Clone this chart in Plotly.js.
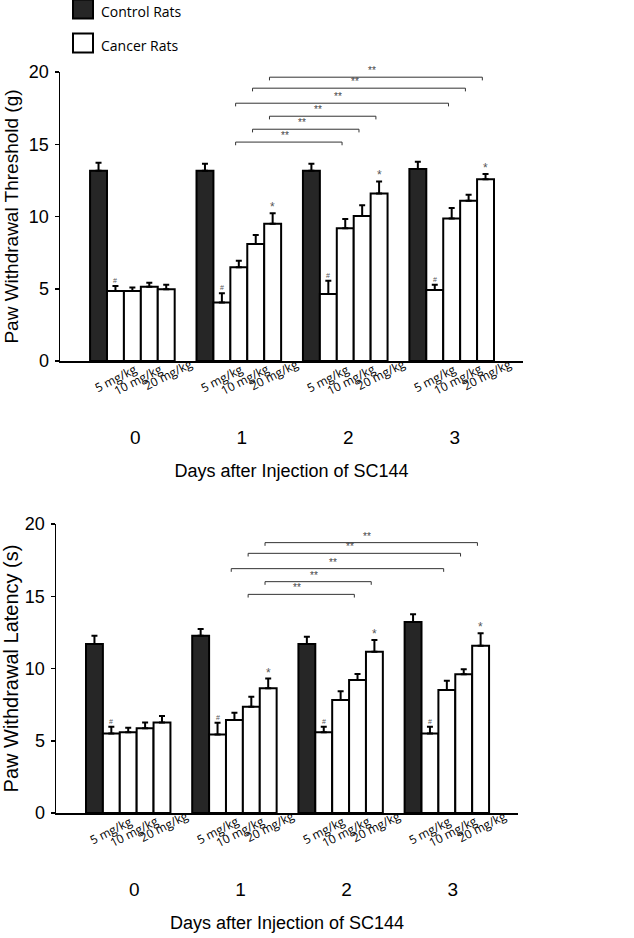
<!DOCTYPE html>
<html>
<head>
<meta charset="utf-8">
<script src="https://cdn.plot.ly/plotly-3.0.1.min.js"></script>
<style>html,body{margin:0;padding:0;background:#fff;}#chart{width:634px;height:938px;}</style>
</head>
<body>
<div id="chart"></div>
<script>
// ---------- data ----------
const days = ["0", "1", "2", "3"];
const groupNames = ["Control Rats", "Cancer Rats"];
const doseLabels = ["5 mg/kg", "10 mg/kg", "20 mg/kg"];
const traceNames = ["Control Rats", "Cancer Rats", "Cancer Rats + 5 mg/kg", "Cancer Rats + 10 mg/kg", "Cancer Rats + 20 mg/kg"];

// Paw withdrawal threshold (g)
const thrControl = [13.17, 13.17, 13.17, 13.29];
const thrControlErr = [0.55, 0.48, 0.48, 0.50];
const thrVehicle = [4.84, 4.04, 4.64, 4.91];
const thrVehicleErr = [0.35, 0.64, 0.92, 0.37];
const thrDose5 = [4.84, 6.48, 9.18, 9.87];
const thrDose5Err = [0.25, 0.46, 0.65, 0.72];
const thrDose10 = [5.14, 8.10, 10.03, 11.09];
const thrDose10Err = [0.28, 0.62, 0.74, 0.42];
const thrDose20 = [4.96, 9.50, 11.60, 12.57];
const thrDose20Err = [0.32, 0.72, 0.83, 0.37];

// Paw withdrawal latency (s)
const latControl = [11.70, 12.27, 11.70, 13.22];
const latControlErr = [0.57, 0.46, 0.50, 0.53];
const latVehicle = [5.51, 5.44, 5.58, 5.51];
const latVehicleErr = [0.46, 0.81, 0.39, 0.46];
const latDose5 = [5.58, 6.44, 7.82, 8.51];
const latDose5Err = [0.32, 0.50, 0.60, 0.65];
const latDose10 = [5.86, 7.36, 9.20, 9.60];
const latDose10Err = [0.41, 0.69, 0.42, 0.34];
const latDose20 = [6.27, 8.63, 11.16, 11.58];
const latDose20Err = [0.44, 0.67, 0.81, 0.86];

// significance brackets: [fromDay, toDay, series index (2=5,3=10,4=20 mg/kg), level]
const thrBrackets = [[1, 3, 4, 19.64], [1, 3, 3, 18.88], [1, 3, 2, 17.84], [1, 2, 4, 16.94], [1, 2, 3, 16.04], [1, 2, 2, 15.15]];
const latBrackets = [[1, 3, 4, 18.71], [1, 3, 3, 17.97], [1, 3, 2, 16.91], [1, 2, 4, 16.01], [1, 2, 3, 15.13]];
// "*" marks above 20 mg/kg bars on these days; "#" above untreated cancer bars on every day
const starDays = [1, 2, 3];
const hashDays = [0, 1, 2, 3];

const yTicks = [0, 5, 10, 15, 20];

// ---------- drawing ----------
const W = 634, H = 938;
const BARGAP = 0.205;
const SLOT = (1 - BARGAP) / 5;
const slotX = (g, k) => g + (k - 2) * SLOT;
const FONT = "Liberation Sans, Arial, sans-serif";
const HFONT = "Open Sans, Noto Sans, sans-serif";
const DARK = "#262626";

function makeTraces(vals, errs, xa, ya) {
  return vals.map((v, k) => ({
    type: "bar", x: days, y: v, name: traceNames[k], xaxis: xa, yaxis: ya,
    showlegend: false, hoverinfo: "y",
    marker: { color: k === 0 ? DARK : "#ffffff", line: { color: "#000", width: 2 } },
    error_y: { type: "data", symmetric: false, array: errs[k], arrayminus: errs[k].map(() => 0),
               color: "#000", thickness: 2, width: 3 }
  }));
}

const thrVals = [thrControl, thrVehicle, thrDose5, thrDose10, thrDose20];
const thrErrs = [thrControlErr, thrVehicleErr, thrDose5Err, thrDose10Err, thrDose20Err];
const latVals = [latControl, latVehicle, latDose5, latDose10, latDose20];
const latErrs = [latControlErr, latVehicleErr, latDose5Err, latDose10Err, latDose20Err];

const traces = makeTraces(thrVals, thrErrs, "x", "y").concat(makeTraces(latVals, latErrs, "x2", "y2"));

const shapes = [];
const annotations = [];

function addDecor(vals, errs, brackets, xr, yr) {
  brackets.forEach(([d1, d2, k, lvl]) => {
    const xa = slotX(d1, k) - 0.03, xb = slotX(d2, k) - 0.03;
    const line = { color: "#333", width: 1 };
    shapes.push({ type: "line", xref: xr, yref: yr, x0: xa, x1: xb, y0: lvl, y1: lvl, line });
    shapes.push({ type: "line", xref: xr, yref: yr, x0: xa, x1: xa, y0: lvl, y1: lvl - 0.22, line });
    shapes.push({ type: "line", xref: xr, yref: yr, x0: xb, x1: xb, y0: lvl, y1: lvl - 0.22, line });
    annotations.push({ xref: xr, yref: yr, x: (xa + xb) / 2 - 0.04, y: lvl, yanchor: "bottom", yshift: -1,
      text: "**", showarrow: false, font: { family: FONT, size: 10, color: "#444" } });
  });
  hashDays.forEach(g => {
    annotations.push({ xref: xr, yref: yr, x: slotX(g, 1), y: vals[1][g] + errs[1][g], yanchor: "bottom", yshift: 0,
      text: "#", showarrow: false, font: { family: FONT, size: 7, color: "#555" } });
  });
  starDays.forEach(g => {
    annotations.push({ xref: xr, yref: yr, x: slotX(g, 4), y: vals[4][g] + errs[4][g], yanchor: "bottom", yshift: -3,
      text: "*", showarrow: false, font: { family: FONT, size: 12, color: "#555" } });
  });
  const doseDx = [-0.163, 0.055, 0.335];
  const doseDy = [17, 18.5, 13.5];
  days.forEach((d, g) => {
    doseLabels.forEach((lab, i) => {
      annotations.push({ xref: xr, yref: yr, x: g + doseDx[i], y: 0, yshift: -doseDy[i],
        xanchor: "center", yanchor: "middle", textangle: -27, text: lab, showarrow: false,
        font: { family: HFONT, size: 12, color: "#000" } });
    });
  });
}
addDecor(thrVals, thrErrs, thrBrackets, "x", "y");
addDecor(latVals, latErrs, latBrackets, "x2", "y2");

// legend (drawn manually to match the large square swatches)
const legY = [9, 43];
groupNames.forEach((n, i) => {
  shapes.push({ type: "rect", xref: "paper", yref: "paper",
    x0: 73 / W, x1: 93 / W, y0: 1 - (legY[i] - 9.5) / H, y1: 1 - (legY[i] + 9.5) / H,
    fillcolor: i === 0 ? DARK : "#fff", line: { color: "#000", width: 2 } });
  annotations.push({ xref: "paper", yref: "paper", x: 99 / W, y: 1 - (legY[i] + 2) / H,
    xanchor: "left", yanchor: "middle", text: n, showarrow: false,
    font: { family: HFONT, size: 14, color: "#000" } });
});

function xAxis(domain, anchor, shift) {
  return {
    type: "category", domain, anchor, range: [-0.68, 3.67], fixedrange: true,
    showline: true, linewidth: 2, linecolor: "#000", ticks: "", showgrid: false, zeroline: false,
    tickfont: { family: FONT, size: 19, color: "#000" }, ticklabelstandoff: 58, ticklabelshift: shift,
    title: { text: "Days after Injection of SC144", font: { family: FONT, size: 18, color: "#000" }, standoff: 18 }
  };
}
function yAxis(domain, anchor, title, tsize) {
  return {
    domain, anchor, range: [0, 20], tickvals: yTicks, fixedrange: true,
    ticks: "outside", ticklen: 4, tickwidth: 1.5, tickcolor: "#000",
    showline: true, linewidth: 1.5, linecolor: "#000", showgrid: false, zeroline: false,
    tickfont: { family: FONT, size: 18, color: "#000" }, ticklabelstandoff: 2,
    title: { text: title, font: { family: FONT, size: tsize, color: "#000" }, standoff: 5 }
  };
}

const layout = {
  width: W, height: H, margin: { l: 0, r: 0, t: 0, b: 0 },
  paper_bgcolor: "#fff", plot_bgcolor: "rgba(0,0,0,0)",
  barmode: "group", bargap: BARGAP, bargroupgap: 0, showlegend: false,
  xaxis: xAxis([60 / W, 523 / W], "y", 3),
  yaxis: yAxis([1 - 361 / H, 1 - 72 / H], "x", "Paw Withdrawal Threshold (g)", 19),
  xaxis2: xAxis([56 / W, 518 / W], "y2", 6),
  yaxis2: yAxis([1 - 813 / H, 1 - 524 / H], "x2", "Paw Withdrawal Latency (s)", 20),
  shapes, annotations
};

Plotly.newPlot("chart", traces, layout, { displayModeBar: false, staticPlot: true });
</script>
</body>
</html>
